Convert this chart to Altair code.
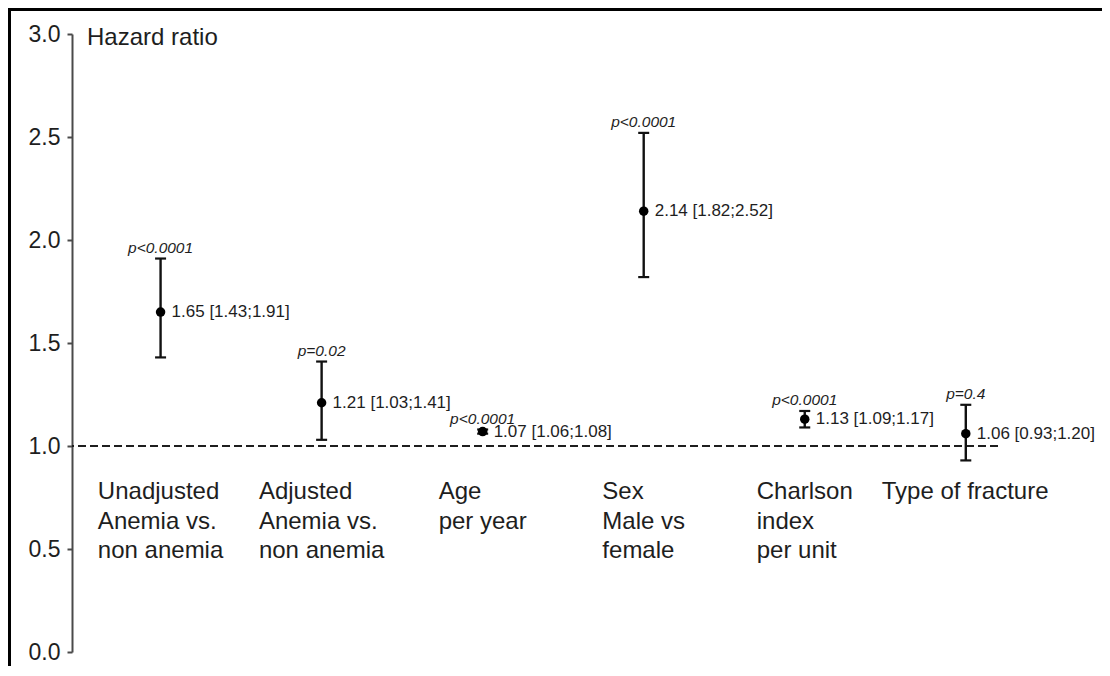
import altair as alt
import pandas as pd

# ---- data ----
categories = [
    "Unadjusted\nAnemia vs.\nnon anemia",
    "Adjusted\nAnemia vs.\nnon anemia",
    "Age\nper year",
    "Sex\nMale vs\nfemale",
    "Charlson\nindex\nper unit",
    "Type of fracture",
]
hazard_ratio = [1.65, 1.21, 1.07, 2.14, 1.13, 1.06]
ci_low = [1.43, 1.03, 1.06, 1.82, 1.09, 0.93]
ci_high = [1.91, 1.41, 1.08, 2.52, 1.17, 1.20]
p_values = ["p<0.0001", "p=0.02", "p<0.0001", "p<0.0001", "p<0.0001", "p=0.4"]
y_ticks = [0.0, 0.5, 1.0, 1.5, 2.0, 2.5, 3.0]

FONT = "Liberation Sans"
TXT = "#1e1e1e"

df = pd.DataFrame({
    "idx": list(range(1, len(categories) + 1)),
    "hr": hazard_ratio,
    "lo": ci_low,
    "hi": ci_high,
    "p": p_values,
})
df["lab"] = [f"{h:.2f} [{l:.2f};{u:.2f}]" for h, l, u in zip(df.hr, df.lo, df.hi)]

xs = alt.Scale(domain=[0.45, 6.2], nice=False, zero=False)
ys = alt.Scale(domain=[0, 3], nice=False)

X = alt.X("idx:Q", scale=xs, axis=None)
Y = alt.Y("hr:Q", scale=ys, title=None,
          axis=alt.Axis(values=y_ticks, format=".1f", grid=False, tickSize=5,
                        tickWidth=2, tickColor="#4a4a4a", domainColor="#4a4a4a",
                        domainWidth=2, labelFont=FONT, labelFontSize=23,
                        labelColor=TXT, labelPadding=7))

base = alt.Chart(df)

ref = base.mark_rule(strokeDash=[8, 4], strokeWidth=2, color=TXT).encode(y=alt.datum(1.0, scale=ys))
bars = base.mark_rule(strokeWidth=2.4, color="#111111").encode(x=X, y=alt.Y("lo:Q", scale=ys), y2="hi:Q")
cap_lo = base.mark_tick(orient="horizontal", size=11, thickness=2.2, color="#111111", opacity=1).encode(x=X, y=alt.Y("lo:Q", scale=ys))
cap_hi = base.mark_tick(orient="horizontal", size=11, thickness=2.2, color="#111111", opacity=1).encode(x=X, y=alt.Y("hi:Q", scale=ys))
pts = base.mark_circle(size=90, color="#000000", opacity=1).encode(x=X, y=Y)
vals = base.mark_text(align="left", baseline="middle", dx=11, font=FONT, fontSize=17, color=TXT).encode(
    x=X, y=alt.Y("hr:Q", scale=ys), text="lab:N")
pvals = base.mark_text(align="center", baseline="alphabetic", dy=-6, font=FONT, fontSize=15.5,
                       fontStyle="italic", color=TXT).encode(x=X, y=alt.Y("hi:Q", scale=ys), text="p:N")

title_txt = alt.Chart(pd.DataFrame({"t": ["Hazard ratio"]})).mark_text(
    align="left", baseline="middle", dy=4, font=FONT, fontSize=24, color=TXT
).encode(x=alt.value(15), y=alt.datum(3.0, scale=ys), text="t:N")

# approximate Arial advance widths (per 1000 em) to centre each left-aligned label block
ARIAL = {" ": 278, ".": 278, "A": 667, "C": 722, "M": 833, "S": 667, "T": 611, "U": 722,
         "a": 556, "c": 500, "d": 556, "e": 556, "f": 278, "g": 556, "h": 556, "i": 222,
         "j": 222, "k": 500, "l": 222, "m": 833, "n": 556, "o": 556, "p": 556, "r": 333,
         "s": 500, "t": 278, "u": 556, "v": 500, "x": 500, "y": 500}
CAT_FS = 24


def text_width(s, fs):
    return sum(ARIAL.get(c, 556) for c in s) * fs / 1000.0


cat_layers = []
for i, cat in enumerate(categories):
    w = max(text_width(line, CAT_FS) for line in cat.split("\n"))
    cat_layers.append(
        alt.Chart(pd.DataFrame({"idx": [i + 1], "c": [cat]})).mark_text(
            align="left", baseline="top", dx=-w / 2, dy=34, lineBreak="\n",
            lineHeight=29.5, font=FONT, fontSize=CAT_FS, color=TXT
        ).encode(x=alt.X("idx:Q", scale=xs, axis=None), y=alt.datum(1.0, scale=ys), text="c:N")
    )

frame_left = alt.Chart(pd.DataFrame({"a": [0]})).mark_rule(color="#000000", strokeWidth=3).encode(
    x=alt.value(-62.5), y=alt.value(-24.5), y2=alt.value(700))
frame_top = alt.Chart(pd.DataFrame({"a": [0]})).mark_rule(color="#000000", strokeWidth=3).encode(
    x=alt.value(-64), x2=alt.value(1100), y=alt.value(-24.5))

chart = alt.layer(
    ref, bars, cap_lo, cap_hi, pts, vals, pvals, title_txt, *cat_layers, frame_left, frame_top
).properties(
    width=926, height=618,
    autosize=alt.AutoSizeParams(type="none"),
    padding={"left": 64, "top": 26, "right": 104, "bottom": 14},
    background="white",
).configure_view(stroke=None)

chart.save("out.html", embed_options={"renderer": "svg", "actions": False})
